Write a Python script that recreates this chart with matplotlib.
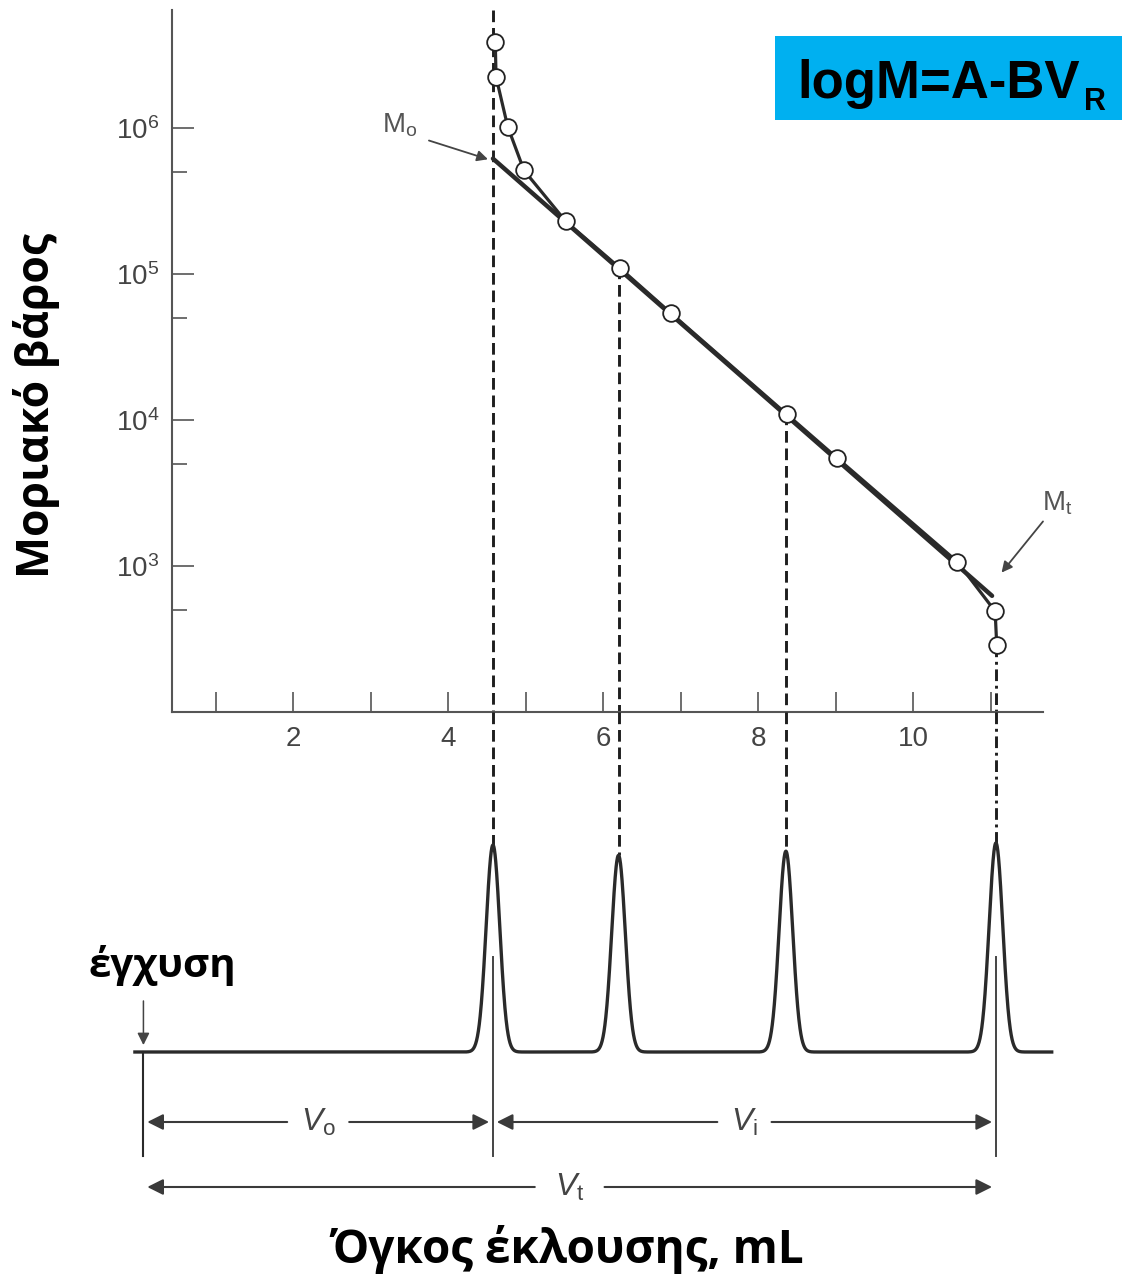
import matplotlib.pyplot as plt
import numpy as np

plt.rcParams['font.family'] = ['Liberation Sans', 'DejaVu Sans']
plt.rcParams['mathtext.fontset'] = 'custom'
plt.rcParams['mathtext.rm'] = 'Liberation Sans'
plt.rcParams['mathtext.it'] = 'Liberation Sans:italic'
plt.rcParams['mathtext.bf'] = 'Liberation Sans:bold'

# calibration points: elution volume (mL) and log10 of molar mass
vol = [4.61, 4.62, 4.77, 4.98, 5.52, 6.22, 6.88, 8.37, 9.02, 10.57, 11.06, 11.08]
log_m = [6.59, 6.35, 6.01, 5.71, 5.36, 5.04, 4.73, 4.04, 3.74, 3.03, 2.69, 2.46]

# linear part of the calibration, logM = A - B*V
A = 7.92
B = 0.465
lin_vol = [4.58, 11.02]

# chromatogram
peak_vol = [4.58, 6.20, 8.36, 11.07]
peak_height = [1.00, 0.95, 0.97, 1.01]
peak_sigma = 0.088
v_inject = 0.07

greek = ['Open Sans', 'DejaVu Sans']
ink = '#2a2a2a'
grey = '#555555'

W, H = 1122, 1280
X0, PXML = 138, 77.5  # pixel of V=0 and pixels per mL


def fx(p):
    return p / W


def fy(p):
    return 1 - p / H


def px_axes(l, t, r, b):
    return fig.add_axes([fx(l), fy(b), (r - l) / W, (b - t) / H])


fig = plt.figure(figsize=(W / 100, H / 100), dpi=100)

# ---- calibration curve ----
ax = px_axes(172, 10, 1043, 712)
ax.set_yscale('log')
ax.set_xlim((172 - X0) / PXML, (1043 - X0) / PXML)
ytop = 6 + 118 / 146
ax.set_ylim(1e2, 10 ** ytop)

lv = np.array(lin_vol)
ax.plot(lv, 10 ** (A - B * lv), color=ink, lw=3.2, solid_capstyle='round', zorder=3)
ax.plot(vol, 10 ** np.array(log_m), color=ink, lw=2.3, zorder=3)
ax.plot(vol, 10 ** np.array(log_m), 'o', ms=12, mfc='white', mec='#222222', mew=1.3, zorder=5)

# drop lines from the curve to the peaks
drop_from = [ytop, np.interp(peak_vol[1], vol, log_m), np.interp(peak_vol[2], vol, log_m), min(log_m)]
for i, (v, lm) in enumerate(zip(peak_vol, drop_from)):
    dash = (4, 2) if i < 3 else (4, 1.6, 1, 1.6)
    ax.plot([v, v], [10 ** lm, 1e2], color='#1e1e1e', lw=2.1, dashes=dash, zorder=2, clip_on=False)

for s in ['top', 'right']:
    ax.spines[s].set_visible(False)
for s in ['left', 'bottom']:
    ax.spines[s].set_color(grey)
    ax.spines[s].set_linewidth(1.5)

ax.set_xticks(range(1, 12))
ax.set_xticklabels(['' if k % 2 else str(k) for k in range(1, 12)])
ax.tick_params(axis='x', direction='in', length=14.5, width=1.2, color=grey,
               labelsize=20, labelcolor='#444444', pad=10)
ax.set_yticks([1e3, 1e4, 1e5, 1e6])
ax.set_yticklabels(['$10^3$', '$10^4$', '$10^5$', '$10^6$'])
ax.set_yticks([5e2, 5e3, 5e4, 5e5], minor=True)
ax.yaxis.set_minor_formatter(plt.NullFormatter())
ax.tick_params(axis='y', which='major', direction='in', length=16, width=1.2, color=grey,
               labelsize=20, labelcolor='#444444', pad=9)
ax.tick_params(axis='y', which='minor', direction='in', length=11, width=1.2, color=grey)

# M_o and M_t labels
ax.text(3.38, 10 ** 6.02, r'$\mathregular{M_o}$', fontsize=20, color=grey, ha='center', va='center')
ax.annotate('', xy=(4.55, 10 ** 5.78), xytext=(3.72, 10 ** 5.92),
            arrowprops=dict(arrowstyle='-|>', color='#444444', lw=1.3, mutation_scale=16))
ax.text(11.86, 10 ** 3.43, r'$\mathregular{M_t}$', fontsize=20, color=grey, ha='center', va='center')
ax.annotate('', xy=(11.12, 10 ** 2.94), xytext=(11.70, 10 ** 3.32),
            arrowprops=dict(arrowstyle='-|>', color='#444444', lw=1.3, mutation_scale=16),
            annotation_clip=False)

# ---- chromatogram ----
bx = px_axes(0, 712, W, H)
bx.set_xlim(-X0 / PXML, (W - X0) / PXML)
bx.set_ylim(-(H - 1052) / 207, (1052 - 712) / 207)
bx.axis('off')

x = np.linspace(-0.04, 11.79, 4000)
sig = np.zeros_like(x)
for v, h in zip(peak_vol, peak_height):
    sig += h * np.exp(-(x - v) ** 2 / (2 * peak_sigma ** 2))
bx.plot(x, sig, color=ink, lw=2.4, zorder=3)

ytop_b = (1052 - 712) / 207
for i, (v, h) in enumerate(zip(peak_vol, peak_height)):
    dash = (4, 2) if i < 3 else (4, 1.6, 1, 1.6)
    bx.plot([v, v], [ytop_b, h], color='#1e1e1e', lw=2.1, dashes=dash, zorder=2)

# injection mark and reference verticals
bx.annotate('', xy=(v_inject, 0.02), xytext=(v_inject, 0.26),
            arrowprops=dict(arrowstyle='-|>', color='#444444', lw=1.1, mutation_scale=18))
bx.plot([v_inject, v_inject], [0, -0.5], color=ink, lw=1.5)
for v in [peak_vol[0], peak_vol[3]]:
    bx.plot([v, v], [0.46, -0.5], color='#444444', lw=1.4, zorder=4)

# volume arrows
y_vo = -(1122 - 1052) / 207
y_vt = -(1187 - 1052) / 207
spans = [(v_inject, peak_vol[0], y_vo, r'$V_\mathregular{o}$', 0.40),
         (peak_vol[0], peak_vol[3], y_vo, r'$V_\mathregular{i}$', 0.35),
         (v_inject, peak_vol[3], y_vt, r'$V_\mathregular{t}$', 0.45)]
for v1, v2, yy, lab, gap in spans:
    mid = (v1 + v2) / 2
    for a, b in [(mid - gap, v1), (mid + gap, v2)]:
        end = b + 0.05 if b < a else b - 0.05
        bx.annotate('', xy=(end, yy), xytext=(a, yy),
                    arrowprops=dict(arrowstyle='-|>', color='#3a3a3a', lw=1.5, mutation_scale=24,
                                    shrinkA=0, shrinkB=0))
    bx.text(mid, yy, lab, fontsize=23, color='#444444', ha='center', va='center')

# ---- texts ----
fig.text(fx(37), fy(405), 'Μοριακό βάρος', rotation=90, ha='center', va='center',
         fontsize=32, fontweight='bold', family=greek)
fig.text(fx(567), fy(1250), 'Όγκος έκλουσης, mL', ha='center', va='center',
         fontsize=33, fontweight='bold', family=greek)
fig.text(fx(162), fy(965), 'έγχυση', ha='center', va='center',
         fontsize=29, fontweight='bold', family=greek)

fig.patches.append(plt.Rectangle((fx(775), fy(120)), (1122 - 775) / W, 84 / H,
                                 transform=fig.transFigure, facecolor='#00B0F0', edgecolor='none'))
fig.text(fx(797), fy(98), 'logM=A-BV', fontsize=38, fontweight='bold', va='baseline', ha='left')
fig.text(fx(1084), fy(110), 'R', fontsize=22, fontweight='bold', va='baseline', ha='left')

fig.savefig('out.png', dpi=100)
